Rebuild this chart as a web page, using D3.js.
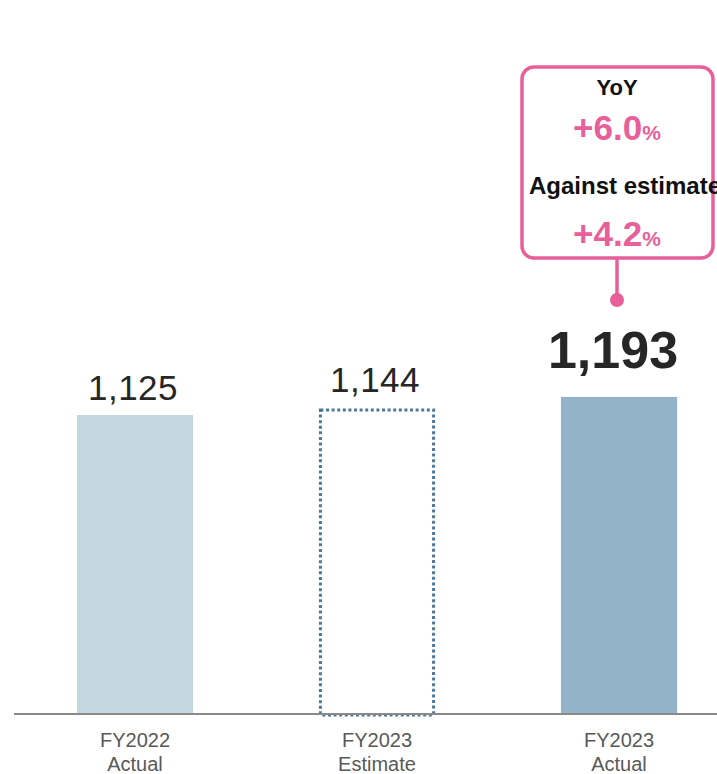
<!DOCTYPE html>
<html>
<head>
<meta charset="utf-8">
<script src="https://cdn.jsdelivr.net/npm/d3@7"></script>
<style>
  html, body { margin: 0; padding: 0; background: #fff; }
  svg { display: block; font-family: "Liberation Sans", Arial, sans-serif; }
</style>
</head>
<body>
<div id="chart"></div>
<script>
// values
let categories = ["FY2022|Actual", "FY2023|Estimate", "FY2023|Actual"];
let values = [1125, 1144, 1193];
let barKinds = ["past", "estimate", "current"];
let calloutTitles = ["YoY", "Against estimate"];
let calloutValues = ["+6.0", "+4.2"];

let width = 717;
let height = 774;
let baseY = 714;

let svg = d3.select("#chart")
    .append("svg")
    .attr("width", width)
    .attr("height", height);

let x = d3.scaleBand()
    .domain(categories)
    .range([14, 740])
    .paddingInner(0.52)
    .paddingOuter(0.26);

let y = d3.scaleLinear()
    .domain([0, 1125])
    .range([baseY, 415]);

let fillFor = {past: "#c5d6e0", estimate: "none", current: "#93b3c8"};
let data = categories.map((c, i) => ({cat: c, value: values[i], kind: barKinds[i]}));

// bars
svg.selectAll("rect.bar")
    .data(data)
    .enter()
    .append("rect")
    .attr("class", "bar")
    .attr("x", d => x(d.cat) + (d.kind == "estimate" ? 1.5 : 0))
    .attr("y", d => y(d.value))
    .attr("width", d => x.bandwidth() - (d.kind == "estimate" ? 3 : 0))
    .attr("height", d => baseY - y(d.value) + (d.kind == "estimate" ? 1 : 0))
    .attr("fill", d => fillFor[d.kind])
    .attr("stroke", d => d.kind == "estimate" ? "#4d7699" : "none")
    .attr("stroke-width", 3)
    .attr("stroke-dasharray", "3,2.6");

// axis line
svg.append("line")
    .attr("x1", 14)
    .attr("x2", width)
    .attr("y1", baseY)
    .attr("y2", baseY)
    .attr("stroke", "#8a8a8a")
    .attr("stroke-width", 2);

// value labels (sit a touch left of the bar centre in the original)
svg.selectAll("text.value")
    .data(data)
    .enter()
    .append("text")
    .attr("class", "value")
    .attr("x", d => x(d.cat) + x.bandwidth() / 2 - (d.kind == "current" ? 6 : 2))
    .attr("y", d => y(d.value) - (d.kind == "current" ? 29 : (d.kind == "estimate" ? 18 : 15)))
    .attr("text-anchor", "middle")
    .attr("fill", "#262626")
    .attr("font-size", d => d.kind == "current" ? "52px" : "35px")
    .attr("font-weight", d => d.kind == "current" ? "bold" : "normal")
    .attr("letter-spacing", d => d.kind == "current" ? "0px" : "0.5px")
    .text(d => d3.format(",")(d.value));

// category labels
let catLabels = svg.selectAll("text.cat")
    .data(categories)
    .enter()
    .append("text")
    .attr("class", "cat")
    .attr("text-anchor", "middle")
    .attr("fill", "#595959")
    .attr("font-size", "20px");

catLabels.append("tspan")
    .attr("x", d => x(d) + x.bandwidth() / 2)
    .attr("y", 747)
    .text(d => d.split("|")[0]);

catLabels.append("tspan")
    .attr("x", d => x(d) + x.bandwidth() / 2)
    .attr("y", 771)
    .text(d => d.split("|")[1]);

// callout box over the latest bar
let pink = "#e8609a";
let cx = x(categories[2]) + x.bandwidth() / 2 - 2;

svg.append("line")
    .attr("x1", cx)
    .attr("x2", cx)
    .attr("y1", 258)
    .attr("y2", 300)
    .attr("stroke", pink)
    .attr("stroke-width", 3.5);

svg.append("circle")
    .attr("cx", cx)
    .attr("cy", 300)
    .attr("r", 7)
    .attr("fill", pink);

svg.append("rect")
    .attr("x", 522)
    .attr("y", 67)
    .attr("width", 191)
    .attr("height", 191)
    .attr("rx", 12)
    .attr("fill", "#fff")
    .attr("stroke", pink)
    .attr("stroke-width", 3.5);

svg.append("text")
    .attr("x", cx)
    .attr("y", 95)
    .attr("text-anchor", "middle")
    .attr("font-weight", "bold")
    .attr("font-size", "22px")
    .attr("fill", "#111")
    .text(calloutTitles[0]);

svg.append("text")
    .attr("x", 529)
    .attr("y", 194)
    .attr("font-weight", "bold")
    .attr("font-size", "24px")
    .attr("fill", "#111")
    .text(calloutTitles[1]);

[140, 246].forEach(function (yy, i) {
    let t = svg.append("text")
        .attr("x", cx)
        .attr("y", yy)
        .attr("text-anchor", "middle")
        .attr("font-weight", "bold")
        .attr("fill", pink);
    t.append("tspan")
        .attr("font-size", "35px")
        .text(calloutValues[i]);
    t.append("tspan")
        .attr("font-size", "21px")
        .text("%");
});
</script>
</body>
</html>
